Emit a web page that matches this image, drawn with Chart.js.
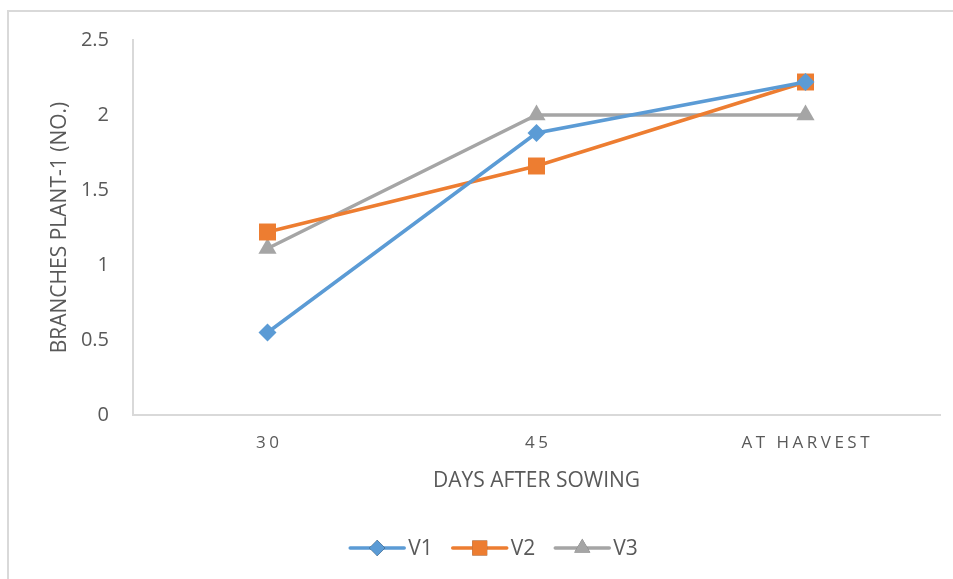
<!DOCTYPE html>
<html>
<head>
<meta charset="utf-8">
<script src="https://cdn.jsdelivr.net/npm/chart.js@4/dist/chart.umd.min.js"></script>
<style>
  html, body { margin: 0; padding: 0; background: #ffffff; }
  #wrap { position: relative; width: 953px; height: 579px; }
  #frame { position: absolute; left: 7px; top: 10px; width: 960px; height: 600px;
           border-left: 2px solid #d9d9d9; border-top: 2px solid #d9d9d9; box-sizing: border-box; }
  canvas { position: absolute; left: 0; top: 0; }
</style>
</head>
<body>
<div id="wrap">
  <div id="frame"></div>
  <canvas id="chart" width="953" height="579"></canvas>
</div>
<script>
// Branch counts per plant at each sampling stage
const categories = ['30', '45', 'AT HARVEST'];
const seriesNames = ['V1', 'V2', 'V3'];
const v1Values = [0.55, 1.88, 2.22];
const v2Values = [1.22, 1.66, 2.22];
const v3Values = [1.11, 2.0, 2.0];
const yTicks = [0, 0.5, 1, 1.5, 2, 2.5];

const seriesColors = ['#5b9bd5', '#ed7d31', '#a5a5a5'];
const seriesMarkers = ['rectRot', 'rect', 'triangle'];
const markerRadius = [9, 12, 10.5];
const textColor = '#595959';
const fontFamily = "'Open Sans', 'Liberation Sans', sans-serif";

const seriesValues = [v1Values, v2Values, v3Values];
const datasets = seriesNames.map((name, i) => ({
  label: name,
  data: seriesValues[i],
  borderColor: seriesColors[i],
  backgroundColor: seriesColors[i],
  borderWidth: 3.5,
  pointStyle: seriesMarkers[i],
  pointRadius: markerRadius[i],
  pointHoverRadius: markerRadius[i],
  pointBorderWidth: 0,
  pointBackgroundColor: seriesColors[i],
  tension: 0,
  fill: false
}));

// Spaced-out category labels under the x axis
const xLabelsPlugin = {
  id: 'xLabels',
  afterDraw(chart) {
    const ctx = chart.ctx;
    const xs = chart.scales.x;
    ctx.save();
    ctx.font = `17px ${fontFamily}`;
    ctx.fillStyle = textColor;
    ctx.textAlign = 'center';
    ctx.textBaseline = 'middle';
    ctx.letterSpacing = '3.5px';
    categories.forEach((c, i) => {
      ctx.fillText(c, xs.getPixelForValue(i) + 1.75, 443);
    });
    ctx.restore();
  }
};

// Legend row: line sample with marker, then series name
const lineLegendPlugin = {
  id: 'lineLegend',
  afterDraw(chart) {
    const ctx = chart.ctx;
    const lineLen = 54, gap = 4, itemGap = 20, cy = 548, centerX = 494;
    ctx.save();
    ctx.font = `21px ${fontFamily}`;
    const items = chart.data.datasets.map(ds => ({ ds, w: lineLen + gap + ctx.measureText(ds.label).width }));
    const total = items.reduce((s, it) => s + it.w, 0) + itemGap * (items.length - 1);
    let x = centerX - total / 2;
    items.forEach(({ ds, w }) => {
      ctx.strokeStyle = ds.borderColor;
      ctx.lineWidth = 3.5;
      ctx.lineCap = 'round';
      ctx.beginPath();
      ctx.moveTo(x, cy);
      ctx.lineTo(x + lineLen, cy);
      ctx.stroke();
      Chart.helpers.drawPoint(ctx, {
        pointStyle: ds.pointStyle, radius: ds.pointRadius * 0.88, rotation: 0, borderWidth: 0
      }, x + lineLen / 2, cy);
      ctx.fillStyle = ds.backgroundColor;
      ctx.fill();
      ctx.fillStyle = textColor;
      ctx.textAlign = 'left';
      ctx.textBaseline = 'middle';
      ctx.fillText(ds.label, x + lineLen + gap, cy + 1);
      x += w + itemGap;
    });
    ctx.restore();
  }
};

new Chart(document.getElementById('chart'), {
  type: 'line',
  data: { labels: categories, datasets },
  plugins: [xLabelsPlugin, lineLegendPlugin],
  options: {
    responsive: false,
    animation: false,
    events: [],
    layout: { padding: { top: 40, right: 13, left: 0, bottom: 0 } },
    plugins: { legend: { display: false }, tooltip: { enabled: false } },
    scales: {
      x: {
        type: 'category',
        offset: true,
        grid: { display: false, drawTicks: false },
        border: { display: true, color: '#d9d9d9', width: 2 },
        ticks: { display: false },
        title: {
          display: true,
          text: 'DAYS AFTER SOWING',
          color: textColor,
          font: { family: fontFamily, size: 21 },
          padding: { top: 0, bottom: 85 }
        },
        afterFit(scale) { scale.height = 164; }
      },
      y: {
        min: 0,
        max: 2.5,
        afterBuildTicks(scale) { scale.ticks = yTicks.map(v => ({ value: v })); },
        grid: { display: false, drawTicks: false },
        border: { display: true, color: '#d9d9d9', width: 2 },
        ticks: {
          color: textColor,
          font: { family: fontFamily, size: 20 },
          padding: 24,
          callback: v => String(v)
        },
        title: {
          display: true,
          text: 'BRANCHES PLANT-1 (NO.)',
          color: textColor,
          font: { family: fontFamily, size: 21 },
          padding: { top: 47, bottom: 0 }
        },
        afterFit(scale) { scale.width = 133; }
      }
    }
  }
});
</script>
</body>
</html>
